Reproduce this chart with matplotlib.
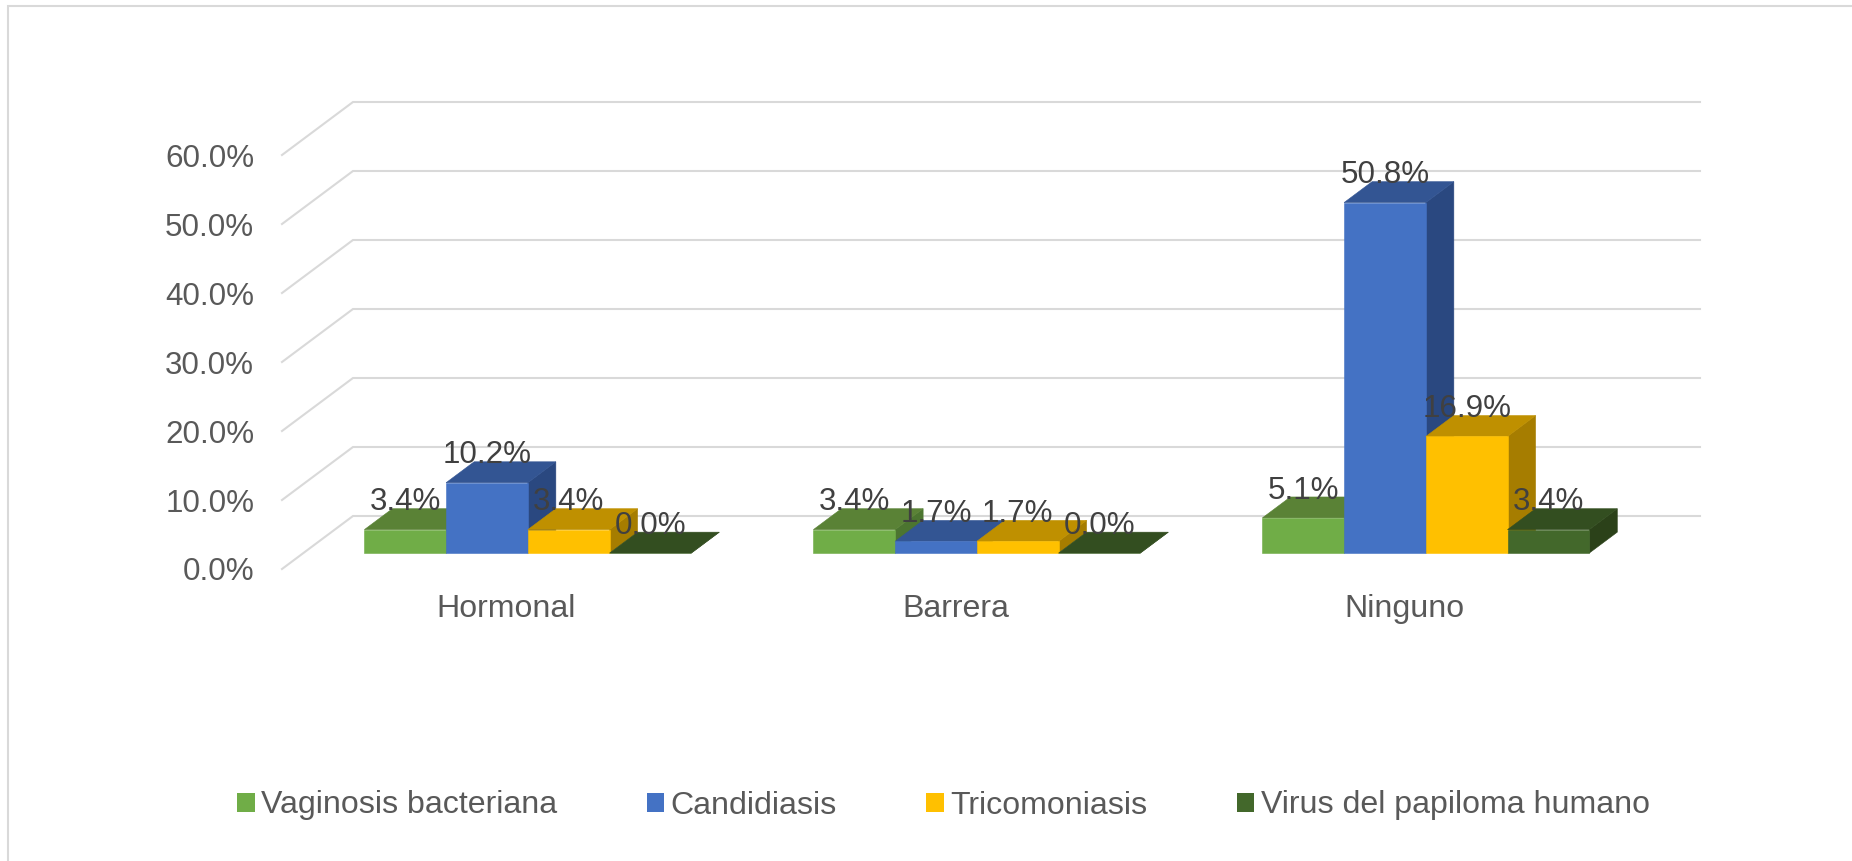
import matplotlib
matplotlib.use("Agg")
import matplotlib.pyplot as plt
from matplotlib.lines import Line2D
from matplotlib.patches import Patch, Polygon

plt.rcParams['font.family'] = ['Liberation Sans', 'DejaVu Sans']

categories = ["Hormonal", "Barrera", "Ninguno"]
seriesNames = ["Vaginosis bacteriana", "Candidiasis", "Tricomoniasis", "Virus del papiloma humano"]
vaginosis = [3.4, 3.4, 5.1]
candidiasis = [10.2, 1.7, 50.8]
tricomoniasis = [3.4, 1.7, 16.9]
virus = [0.0, 0.0, 3.4]
yTicks = [0, 10, 20, 30, 40, 50, 60]

seriesValues = [vaginosis, candidiasis, tricomoniasis, virus]
frontColors = ["#70AD47", "#4472C4", "#FFC000", "#43682B"]
topColors = ["#5A8236", "#335593", "#BF9000", "#334E20"]
sideColors = ["#4C7530", "#2A4880", "#A67D00", "#2B4119"]

WIDTH, HEIGHT = 1852, 861
# front plane of the chart box, pixels
LEFT, RIGHT, BOTTOM, TOP = 282, 1629, 569, 155
# how far the back wall is shifted from the front plane, in data units
DEPTH_X = 71 / 449
DEPTH_Y = 53 / 6.9
BAR_WIDTH = 0.182
BAR_FRONT, BAR_BACK = 0.30, 0.695
GRID_COLOR = "#D9D9D9"
NUMBER_SIZE = 22.6
WORD_SIZE = 23.1


def skew(x, y, depth):
    return (x + depth * DEPTH_X, y + depth * DEPTH_Y)


def drawBar(ax, x, value, front, top, side):
    # painter's order, side and top first then the front face
    ax.add_patch(Polygon([skew(x + BAR_WIDTH, 0, BAR_FRONT), skew(x + BAR_WIDTH, 0, BAR_BACK),
                          skew(x + BAR_WIDTH, value, BAR_BACK), skew(x + BAR_WIDTH, value, BAR_FRONT)],
                         facecolor=side, edgecolor=side, lw=0.4, clip_on=False))
    ax.add_patch(Polygon([skew(x, value, BAR_FRONT), skew(x, value, BAR_BACK),
                          skew(x + BAR_WIDTH, value, BAR_BACK), skew(x + BAR_WIDTH, value, BAR_FRONT)],
                         facecolor=top, edgecolor=top, lw=0.4, clip_on=False))
    ax.add_patch(Polygon([skew(x, 0, BAR_FRONT), skew(x + BAR_WIDTH, 0, BAR_FRONT),
                          skew(x + BAR_WIDTH, value, BAR_FRONT), skew(x, value, BAR_FRONT)],
                         facecolor=front, edgecolor=front, lw=0.4, clip_on=False))


fig = plt.figure(figsize=(WIDTH / 100, HEIGHT / 100), dpi=100)
ax = fig.add_axes([LEFT / WIDTH, 1 - BOTTOM / HEIGHT, (RIGHT - LEFT) / WIDTH, (BOTTOM - TOP) / HEIGHT])
ax.set_xlim(0, len(categories))
ax.set_ylim(0, 60)
ax.patch.set_visible(False)
for spine in ax.spines.values():
    spine.set_visible(False)

ax.set_xticks([i + 0.5 for i in range(len(categories))])
ax.set_xticklabels(categories)
ax.set_yticks(yTicks)
ax.set_yticklabels(["%.1f%%" % v for v in yTicks])
ax.tick_params(axis='x', length=0, pad=18, labelsize=WORD_SIZE, labelcolor="#595959")
ax.tick_params(axis='y', length=0, pad=20, labelsize=NUMBER_SIZE, labelcolor="#595959")

# walls: floor diagonal then the line along the back
for v in yTicks:
    p0 = skew(0, v, 0)
    p1 = skew(0, v, 1)
    p2 = skew(len(categories), v, 1)
    ax.plot([p0[0], p1[0], p2[0]], [p0[1], p1[1], p2[1]], color=GRID_COLOR, lw=1.5,
            clip_on=False, solid_joinstyle='miter', zorder=0.5)

groupStart = 0.5 - BAR_WIDTH * len(seriesValues) / 2
for c in range(len(categories)):
    for s in range(len(seriesValues)):
        x = c + groupStart + s * BAR_WIDTH
        drawBar(ax, x, seriesValues[s][c], frontColors[s], topColors[s], sideColors[s])

for c in range(len(categories)):
    for s in range(len(seriesValues)):
        x = c + groupStart + s * BAR_WIDTH + BAR_WIDTH / 2
        value = seriesValues[s][c]
        ax.annotate("%.1f%%" % value, skew(x, value, BAR_FRONT), xytext=(0, 19.6),
                    textcoords='offset points', ha='center', va='center',
                    fontsize=NUMBER_SIZE, color="#404040", zorder=10, annotation_clip=False)

handles = [Patch(facecolor=frontColors[s], label=seriesNames[s]) for s in range(len(seriesNames))]
fig.legend(handles=handles, loc='center', bbox_to_anchor=(943.5 / WIDTH, 1 - 805.5 / HEIGHT),
           ncol=4, frameon=False, fontsize=WORD_SIZE, labelcolor="#595959", handlelength=0.54,
           handleheight=0.54, handletextpad=0.2, columnspacing=2.79, borderpad=0, borderaxespad=0)

# chart frame, only the left and top edges are inside the image
fig.add_artist(Line2D([8 / WIDTH, 8 / WIDTH, 1], [0, 1 - 5.5 / HEIGHT, 1 - 5.5 / HEIGHT],
                      color=GRID_COLOR, lw=1.5, solid_joinstyle='miter'))

fig.savefig("out.png", dpi=100)
